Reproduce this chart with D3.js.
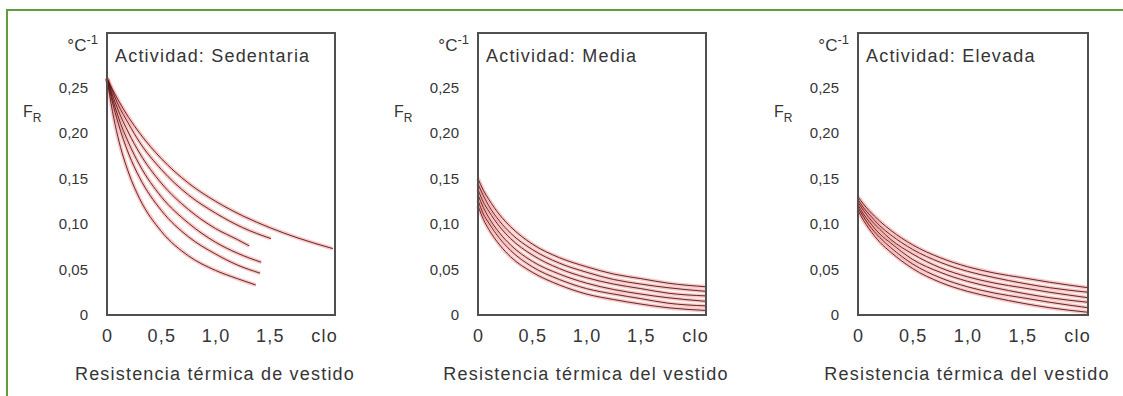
<!DOCTYPE html>
<head>
<meta charset="utf-8">
<script src="https://d3js.org/d3.v7.min.js"></script>
<style>
body { margin: 0; background-color: #ffffff; }
svg text { font-family: "Liberation Sans", Arial, sans-serif; fill: #353535; }
.big { font-size: 18px; letter-spacing: 1.2px; }
</style>
</head>
<body>
<div id="chart"></div>
<script>

// tick values and labels shared by the three panels
var xTicks = [0, 0.5, 1, 1.5, 2];
var xTickLabels = ["0", "0,5", "1,0", "1,5", "clo"];
var yTicks = [0, 0.05, 0.10, 0.15, 0.20, 0.25];
var yTickLabels = ["0", "0,05", "0,10", "0,15", "0,20", "0,25"];

var panelTitles = ["Actividad: Sedentaria", "Actividad: Media", "Actividad: Elevada"];
var axisTitles = ["Resistencia térmica de vestido", "Resistencia térmica del vestido", "Resistencia térmica del vestido"];

// Sedentaria: each curve has its own end point
var sedentariaX = [
  [0, 0.05, 0.1, 0.2, 0.3, 0.5, 0.75, 1.0, 1.25, 1.5, 1.75, 2.08],
  [0, 0.05, 0.1, 0.2, 0.3, 0.5, 0.75, 1.0, 1.25, 1.51],
  [0, 0.05, 0.1, 0.2, 0.3, 0.5, 0.75, 1.0, 1.2, 1.31],
  [0, 0.05, 0.1, 0.2, 0.3, 0.5, 0.75, 1.0, 1.2, 1.42],
  [0, 0.05, 0.1, 0.2, 0.3, 0.5, 0.75, 1.0, 1.2, 1.41],
  [0, 0.05, 0.1, 0.2, 0.3, 0.5, 0.75, 1.0, 1.2, 1.37]
];
var sedentariaY = [
  [0.260, 0.248, 0.237, 0.217, 0.200, 0.172, 0.145, 0.125, 0.109, 0.096, 0.085, 0.073],
  [0.260, 0.246, 0.232, 0.210, 0.190, 0.160, 0.132, 0.112, 0.096, 0.084],
  [0.260, 0.242, 0.226, 0.200, 0.178, 0.145, 0.116, 0.095, 0.083, 0.076],
  [0.260, 0.238, 0.219, 0.189, 0.165, 0.130, 0.101, 0.080, 0.068, 0.058],
  [0.260, 0.234, 0.212, 0.177, 0.151, 0.115, 0.086, 0.067, 0.055, 0.046],
  [0.260, 0.224, 0.196, 0.156, 0.128, 0.092, 0.065, 0.049, 0.040, 0.033]
];

// Media and Elevada: all curves run to the right edge
var fullX = [0, 0.05, 0.1, 0.2, 0.3, 0.5, 0.75, 1.0, 1.25, 1.5, 1.75, 2.1];
var mediaY = [
  [0.150, 0.137, 0.127, 0.110, 0.097, 0.078, 0.063, 0.053, 0.045, 0.040, 0.035, 0.031],
  [0.144, 0.131, 0.120, 0.103, 0.090, 0.072, 0.057, 0.047, 0.039, 0.034, 0.030, 0.026],
  [0.138, 0.124, 0.114, 0.097, 0.084, 0.066, 0.051, 0.041, 0.034, 0.029, 0.024, 0.021],
  [0.132, 0.118, 0.107, 0.090, 0.077, 0.059, 0.045, 0.035, 0.028, 0.023, 0.019, 0.015],
  [0.126, 0.111, 0.101, 0.084, 0.071, 0.053, 0.039, 0.029, 0.023, 0.018, 0.013, 0.010],
  [0.120, 0.105, 0.094, 0.077, 0.064, 0.047, 0.033, 0.023, 0.017, 0.012, 0.008, 0.005]
];
var elevadaY = [
  [0.130, 0.122, 0.115, 0.103, 0.093, 0.077, 0.063, 0.053, 0.046, 0.041, 0.036, 0.030],
  [0.127, 0.118, 0.111, 0.098, 0.088, 0.072, 0.058, 0.048, 0.041, 0.035, 0.030, 0.025],
  [0.124, 0.115, 0.107, 0.094, 0.083, 0.067, 0.052, 0.042, 0.035, 0.030, 0.025, 0.019],
  [0.121, 0.111, 0.103, 0.089, 0.079, 0.061, 0.047, 0.037, 0.030, 0.024, 0.019, 0.014],
  [0.118, 0.108, 0.099, 0.085, 0.074, 0.056, 0.041, 0.031, 0.024, 0.019, 0.014, 0.008],
  [0.115, 0.104, 0.095, 0.080, 0.069, 0.051, 0.036, 0.026, 0.019, 0.013, 0.008, 0.003]
];

var panels = [
  {xs: sedentariaX, ys: sedentariaY, left: 107, w: 228},
  {xs: [fullX, fullX, fullX, fullX, fullX, fullX], ys: mediaY, left: 478, w: 228},
  {xs: [fullX, fullX, fullX, fullX, fullX, fullX], ys: elevadaY, left: 858, w: 230}
];

var width = 1123, height = 396;
var plotTop = 33, plotBottom = 315;

var svg = d3.select("#chart").append("svg")
  .attr("width", width)
  .attr("height", height);

// green frame (top and left sides only)
svg.append("path")
  .attr("d", "M7,396 L7,10 L1123,10")
  .style("fill", "none")
  .style("stroke", "#629c3c")
  .style("stroke-width", 2);

panels.forEach(function(p, i) {
  var x = d3.scaleLinear().domain([0, 2.1]).range([p.left, p.left + p.w]);
  var y = d3.scaleLinear().domain([0, 0.31]).range([plotBottom, plotTop]);
  var g = svg.append("g");

  // y tick labels
  g.append("g")
    .attr("transform", "translate(" + (p.left - 19) + ",0)")
    .call(d3.axisLeft(y).tickValues(yTicks).tickSize(0).tickPadding(0)
      .tickFormat(function(d, k) { return yTickLabels[k]; }))
    .call(function(a) { a.select(".domain").remove(); })
    .selectAll("text").style("font-size", "15px").style("fill", "#353535")
    .style("font-family", "Liberation Sans, Arial, sans-serif");

  // x tick labels
  g.append("g")
    .attr("transform", "translate(0," + plotBottom + ")")
    .call(d3.axisBottom(x).tickValues(xTicks).tickSize(0).tickPadding(14)
      .tickFormat(function(d, k) { return xTickLabels[k]; }))
    .call(function(a) { a.select(".domain").remove(); })
    .selectAll("text").style("font-size", "18px").style("letter-spacing", "1.2px")
    .style("fill", "#353535").style("font-family", "Liberation Sans, Arial, sans-serif");

  // curves: red glow under a dark core line
  var line = d3.line()
    .x(function(d) { return x(d[0]); })
    .y(function(d) { return y(d[1]); })
    .curve(d3.curveMonotoneX);
  var series = p.ys.map(function(ys, k) {
    return ys.map(function(v, j) { return [p.xs[k][j], v]; });
  });
  g.selectAll(".glow").data(series).enter().append("path")
    .attr("d", line)
    .style("fill", "none")
    .style("stroke", "#ee3b36")
    .style("stroke-opacity", 0.28)
    .style("stroke-width", 4);
  g.selectAll(".core").data(series).enter().append("path")
    .attr("d", line)
    .style("fill", "none")
    .style("stroke", "#4e1818")
    .style("stroke-width", 0.9);

  // plot frame
  g.append("rect")
    .attr("x", p.left)
    .attr("y", plotTop)
    .attr("width", p.w)
    .attr("height", plotBottom - plotTop)
    .style("fill", "none")
    .style("stroke", "#505050")
    .style("stroke-width", 2);

  // panel title inside the frame
  g.append("text")
    .attr("class", "big")
    .attr("x", p.left + 8)
    .attr("y", plotTop + 29)
    .text(panelTitles[i]);

  // unit label °C-1
  var u = g.append("text")
    .attr("x", p.left - 9)
    .attr("y", plotTop + 18)
    .attr("text-anchor", "end")
    .style("font-size", "17px");
  u.append("tspan").text("°C");
  u.append("tspan").attr("dy", -7).style("font-size", "13px").text("-1");

  // F_R label
  var f = g.append("text")
    .attr("x", p.left - 84)
    .attr("y", plotTop + 84)
    .style("font-size", "16px");
  f.append("tspan").text("F");
  f.append("tspan").attr("dy", 5).style("font-size", "12px").text("R");

  // x axis title
  g.append("text")
    .attr("class", "big")
    .attr("x", p.left + p.w / 2 - 6)
    .attr("y", 380)
    .attr("text-anchor", "middle")
    .text(axisTitles[i]);
});

</script>
</body>
